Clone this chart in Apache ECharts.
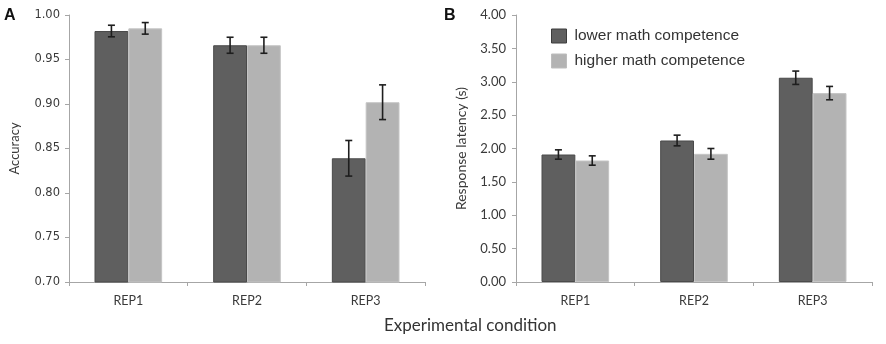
<!DOCTYPE html>
<html>
<head>
<meta charset="utf-8">
<script src="https://cdn.jsdelivr.net/npm/echarts@6/dist/echarts.min.js"></script>
<style>
html,body{margin:0;padding:0;background:#fff;}
#main{width:886px;height:344px;}
</style>
</head>
<body>
<div id="main"></div>
<script>
const categories = ['REP1', 'REP2', 'REP3'];
const seriesNames = ['lower math competence', 'higher math competence'];
// Panel A: accuracy
const accLower = [0.982, 0.966, 0.839];
const accLowerErr = [0.0065, 0.009, 0.020];
const accHigher = [0.985, 0.966, 0.902];
const accHigherErr = [0.0065, 0.009, 0.0195];
// Panel B: response latency (s)
const latLower = [1.91, 2.12, 3.06];
const latLowerErr = [0.07, 0.08, 0.10];
const latHigher = [1.82, 1.92, 2.83];
const latHigherErr = [0.07, 0.08, 0.10];

const darkColor = '#5f5f5f';
const lightColor = '#b3b3b3';
const catGap = 0.43;

function errSeries(name, xi, yi, vals, errs, side) {
  return {
    type: 'custom',
    name: name + ' err',
    xAxisIndex: xi, yAxisIndex: yi,
    z: 10,
    silent: true,
    data: vals.map((v, i) => [i, v, errs[i]]),
    renderItem: function (params, api) {
      const idx = api.value(0);
      const v = api.value(1), e = api.value(2);
      const cw = api.size([1, 0])[0];
      const bw = cw * (1 - catGap) / 2;
      const c = api.coord([idx, v]);
      const x = c[0] + side * bw / 2;
      const top = api.coord([idx, v + e])[1];
      const bot = api.coord([idx, v - e])[1];
      const cap = 3.5;
      const st = { stroke: '#1e1e1e', lineWidth: 1.6 };
      return {
        type: 'group',
        children: [
          { type: 'line', shape: { x1: x, y1: top, x2: x, y2: bot }, style: st },
          { type: 'line', shape: { x1: x - cap, y1: top, x2: x + cap, y2: top }, style: st },
          { type: 'line', shape: { x1: x - cap, y1: bot, x2: x + cap, y2: bot }, style: st }
        ]
      };
    }
  };
}

const axisLineStyle = { color: '#a6a6a6', width: 1 };
const labelColor = '#3a3a3a';

function xAx(gi) {
  return {
    type: 'category', gridIndex: gi, data: categories,
    axisLine: { show: true, lineStyle: axisLineStyle },
    axisTick: { show: true, length: 4, lineStyle: axisLineStyle },
    axisLabel: { color: labelColor, fontFamily: 'Lato', fontSize: 12.5, margin: 12 },
    splitLine: { show: false }
  };
}

const chart = echarts.init(document.getElementById('main'), null, { renderer: 'canvas' });
chart.setOption({
  backgroundColor: '#fff',
  animation: false,
  grid: [
    { left: 69, top: 15, width: 356, height: 267 },
    { left: 516, top: 15, width: 356, height: 267 }
  ],
  legend: {
    data: seriesNames.map((n, i) => ({
      name: n,
      itemStyle: { color: i === 0 ? darkColor : lightColor, borderColor: i === 0 ? '#3c3c3c' : '#bdbdbd', borderWidth: 1 }
    })),
    orient: 'vertical',
    left: 551, top: 28,
    itemWidth: 15, itemHeight: 14, itemGap: 9,
    icon: 'rect',
    textStyle: { fontFamily: 'Liberation Sans', fontSize: 15.5, color: '#333', padding: [0, 0, 0, 3] },
    padding: 0
  },
  xAxis: [xAx(0), xAx(1)],
  yAxis: [
    {
      type: 'value', gridIndex: 0, min: 0.7, max: 1.0, interval: 0.05,
      name: 'Accuracy', nameLocation: 'middle', nameGap: 48,
      nameTextStyle: { fontFamily: 'Lato', fontSize: 13, color: labelColor },
      axisLine: { show: true, lineStyle: axisLineStyle },
      axisTick: { show: true, length: 4, lineStyle: axisLineStyle },
      axisLabel: { color: labelColor, fontFamily: 'DejaVu Sans', fontSize: 11.5, margin: 9, formatter: v => v.toFixed(2) },
      splitLine: { show: false }
    },
    {
      type: 'value', gridIndex: 1, min: 0, max: 4, interval: 0.5,
      name: 'Response latency (s)', nameLocation: 'middle', nameGap: 48,
      nameTextStyle: { fontFamily: 'Lato', fontSize: 14, color: labelColor },
      axisLine: { show: true, lineStyle: axisLineStyle },
      axisTick: { show: true, length: 4, lineStyle: axisLineStyle },
      axisLabel: { color: labelColor, fontFamily: 'Lato', fontSize: 13, margin: 10, formatter: v => v.toFixed(2) },
      splitLine: { show: false }
    }
  ],
  graphic: [
    { type: 'text', left: 4, top: 8, style: { text: 'A', font: 'bold 16px "Liberation Sans"', fill: '#111' } },
    { type: 'text', left: 444, top: 8, style: { text: 'B', font: 'bold 16px "Liberation Sans"', fill: '#111' } },
    { type: 'text', left: 384, top: 317, style: { text: 'Experimental condition', font: '17px Lato', fill: '#333' } }
  ],
  series: [
    { type: 'bar', name: seriesNames[0], xAxisIndex: 0, yAxisIndex: 0, data: accLower, barGap: '0%', barCategoryGap: '43%',
      itemStyle: { color: darkColor, borderColor: '#4a4a4a', borderWidth: 1 } },
    { type: 'bar', name: seriesNames[1], xAxisIndex: 0, yAxisIndex: 0, data: accHigher, barGap: '0%', barCategoryGap: '43%',
      itemStyle: { color: lightColor, borderColor: '#c4c4c4', borderWidth: 1 } },
    { type: 'bar', name: seriesNames[0], xAxisIndex: 1, yAxisIndex: 1, data: latLower, barGap: '0%', barCategoryGap: '43%',
      itemStyle: { color: darkColor, borderColor: '#4a4a4a', borderWidth: 1 } },
    { type: 'bar', name: seriesNames[1], xAxisIndex: 1, yAxisIndex: 1, data: latHigher, barGap: '0%', barCategoryGap: '43%',
      itemStyle: { color: lightColor, borderColor: '#c4c4c4', borderWidth: 1 } },
    errSeries(seriesNames[0], 0, 0, accLower, accLowerErr, -1),
    errSeries(seriesNames[1], 0, 0, accHigher, accHigherErr, 1),
    errSeries(seriesNames[0], 1, 1, latLower, latLowerErr, -1),
    errSeries(seriesNames[1], 1, 1, latHigher, latHigherErr, 1)
  ]
});
</script>
</body>
</html>
